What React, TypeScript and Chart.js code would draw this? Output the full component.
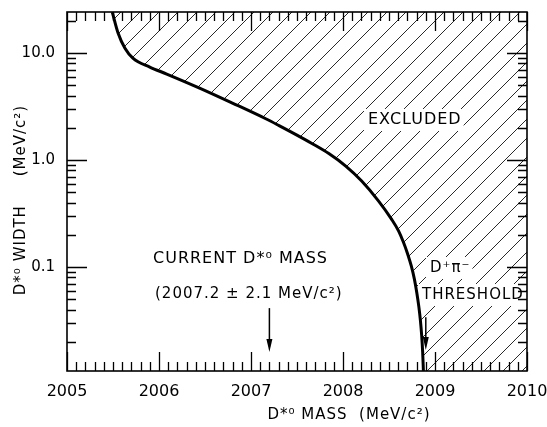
import React, { useEffect, useRef } from "react";
import { Chart, registerables } from "chart.js";

Chart.register(...registerables);

// ---- data ----
const curveMass = [
  2005.492, 2005.555, 2005.63, 2005.716, 2005.9, 2006.084, 2006.441, 2006.798,
  2007.166, 2007.305, 2007.489, 2007.662, 2007.846, 2008.03, 2008.203, 2008.387,
  2008.527, 2008.605, 2008.657, 2008.7, 2008.743, 2008.776, 2008.803, 2008.825,
  2008.841, 2008.855, 2008.866, 2008.874,
];
const curveWidth = [
  24.2, 15.4, 11.1, 8.98, 7.4, 6.37, 4.71, 3.41,
  2.42, 2.1, 1.73, 1.43, 1.15, 0.879, 0.637, 0.414,
  0.281, 0.217, 0.171, 0.135, 0.102, 0.0772, 0.0571, 0.0423,
  0.032, 0.0231, 0.016, 0.0107,
];
const xMin = 2005;
const xMax = 2010;
const yMin = 0.0107;
const yMax = 24.2;
const xTickValues = [2005, 2006, 2007, 2008, 2009, 2010];
const xTickLabels = ["2005", "2006", "2007", "2008", "2009", "2010"];
const yTickValues = [0.1, 1, 10];
const yTickLabels = ["0.1", "1.0", "10.0"];

const currentMass = 2007.2;
const currentArrow = [0.0414, 0.0161]; // tail, tip
const thresholdMass = 2008.9;
const thresholdArrow = [0.0341, 0.0168];

const FONT = '"DejaVu Sans", sans-serif';

function drawArrow(ctx: CanvasRenderingContext2D, x: number, y0: number, y1: number) {
  ctx.beginPath();
  ctx.moveTo(x, y0);
  ctx.lineTo(x, y1 - 8);
  ctx.stroke();
  ctx.beginPath();
  ctx.moveTo(x - 3, y1 - 13);
  ctx.lineTo(x + 3, y1 - 13);
  ctx.lineTo(x, y1);
  ctx.closePath();
  ctx.fill();
}

const boxedLabels = [
  { text: "EXCLUDED", x: 368, y: 120, size: 16 },
  { text: "D⁺π⁻", x: 430, y: 268, size: 15 },
  { text: "THRESHOLD", x: 422, y: 295, size: 15 },
];
const plainLabels = [
  { text: "CURRENT D*⁰ MASS", x: 153, y: 259, size: 16 },
  { text: "(2007.2 ± 2.1 MeV/c²)", x: 155, y: 294, size: 15 },
];

const framePlugin = {
  id: "frameDecor",
  afterDatasetDraw(chart: any, args: any) {
    if (args.index !== 1) return;
    const ctx: CanvasRenderingContext2D = chart.ctx;
    ctx.save();
    (ctx as any).letterSpacing = "1px";
    ctx.fillStyle = "#fff";
    for (const l of boxedLabels) {
      ctx.font = `${l.size}px ${FONT}`;
      const w = ctx.measureText(l.text).width;
      ctx.fillRect(l.x - 4, l.y - 11, w + 6, 22);
    }
    ctx.restore();
  },
  afterDraw(chart: any) {
    const ctx: CanvasRenderingContext2D = chart.ctx;
    const a = chart.chartArea;
    const xs = chart.scales.x;
    const ys = chart.scales.y;
    ctx.save();
    ctx.strokeStyle = "#000";
    ctx.fillStyle = "#000";
    ctx.lineWidth = 1.6;
    ctx.strokeRect(a.left, a.top, a.right - a.left, a.bottom - a.top);

    ctx.lineWidth = 1.3;
    ctx.beginPath();
    for (let i = 0; i <= 50; i++) {
      const v = xMin + i * 0.1;
      const px = Math.round(xs.getPixelForValue(v)) + 0.5;
      const len = i % 10 === 0 ? 19 : 9;
      ctx.moveTo(px, a.bottom);
      ctx.lineTo(px, a.bottom - len);
      ctx.moveTo(px, a.top);
      ctx.lineTo(px, a.top + len);
    }
    for (let k = -2; k <= 1; k++) {
      for (let m = 1; m <= 9; m++) {
        const v = m * Math.pow(10, k);
        if (v < yMin || v > yMax) continue;
        const py = Math.round(ys.getPixelForValue(v)) + 0.5;
        const len = m === 1 ? 20 : 9;
        ctx.moveTo(a.left, py);
        ctx.lineTo(a.left + len, py);
        ctx.moveTo(a.right, py);
        ctx.lineTo(a.right - len, py);
      }
    }
    ctx.stroke();

    ctx.lineWidth = 1.5;
    drawArrow(
      ctx,
      xs.getPixelForValue(currentMass),
      ys.getPixelForValue(currentArrow[0]),
      ys.getPixelForValue(currentArrow[1])
    );
    drawArrow(
      ctx,
      xs.getPixelForValue(thresholdMass),
      ys.getPixelForValue(thresholdArrow[0]),
      ys.getPixelForValue(thresholdArrow[1])
    );

    (ctx as any).letterSpacing = "1px";
    ctx.textBaseline = "middle";
    ctx.textAlign = "left";
    for (const l of [...boxedLabels, ...plainLabels]) {
      ctx.font = `${l.size}px ${FONT}`;
      ctx.fillText(l.text, l.x, l.y);
    }

    // axis titles
    ctx.font = `15px ${FONT}`;
    ctx.textAlign = "center";
    ctx.fillText("D*⁰ MASS  (MeV/c²)", 349, 415);
    ctx.save();
    ctx.translate(21, 200);
    ctx.rotate(-Math.PI / 2);
    ctx.fillText("D*⁰ WIDTH     (MeV/c²)", 0, 0);
    ctx.restore();
    ctx.restore();
  },
};

export default function App() {
  const ref = useRef<HTMLCanvasElement | null>(null);
  useEffect(() => {
    const canvas = ref.current;
    if (!canvas) return;
    const tile = document.createElement("canvas");
    const s = 19;
    tile.width = s;
    tile.height = s;
    const tctx = tile.getContext("2d")!;
    tctx.strokeStyle = "#2a2a2a";
    tctx.lineWidth = 1;
    tctx.beginPath();
    tctx.moveTo(-1, s + 1);
    tctx.lineTo(s + 1, -1);
    tctx.stroke();
    const pattern = canvas.getContext("2d")!.createPattern(tile, "repeat");

    const curve = curveMass.map((m, i) => ({ x: m, y: curveWidth[i] }));
    const fillPts = [...curve, { x: xMax, y: yMin / 10 }];

    const chart = new Chart(canvas, {
      type: "line",
      data: {
        datasets: [
          {
            data: curve,
            borderColor: "#000",
            borderWidth: 3,
            pointRadius: 0,
            fill: false,
            cubicInterpolationMode: "monotone",
          },
          {
            data: fillPts,
            borderColor: "rgba(0,0,0,0)",
            borderWidth: 0,
            pointRadius: 0,
            fill: "end",
            backgroundColor: pattern as any,
            cubicInterpolationMode: "monotone",
          },
        ],
      },
      options: {
        animation: false,
        responsive: false,
        layout: { padding: { left: 0, top: 12, right: 20, bottom: 0 } },
        plugins: { legend: { display: false }, tooltip: { enabled: false } },
        scales: {
          x: {
            type: "linear",
            min: xMin,
            max: xMax,
            grid: { display: false, drawTicks: false },
            border: { display: false },
            afterBuildTicks: (sc: any) => {
              sc.ticks = xTickValues.map((v) => ({ value: v }));
            },
            ticks: {
              callback: (v: any) => xTickLabels[xTickValues.indexOf(Number(v))] ?? "",
              font: { family: FONT, size: 16 },
              color: "#000",
              padding: 11,
              maxRotation: 0,
              minRotation: 0,
              autoSkip: false,
            },
            afterFit: (sc: any) => {
              sc.height = 56;
              sc.paddingLeft = 0;
              sc.paddingRight = 0;
            },
          },
          y: {
            type: "logarithmic",
            min: yMin,
            max: yMax,
            grid: { display: false, drawTicks: false },
            border: { display: false },
            afterBuildTicks: (sc: any) => {
              sc.ticks = yTickValues.map((v) => ({ value: v }));
            },
            ticks: {
              callback: (v: any) => {
                const i = yTickValues.findIndex((t) => Math.abs(t - Number(v)) < 1e-9);
                return i >= 0 ? yTickLabels[i] : "";
              },
              font: { family: FONT, size: 15 },
              color: "#000",
              padding: 12,
              autoSkip: false,
            },
            afterFit: (sc: any) => {
              sc.width = 67;
              sc.paddingTop = 0;
              sc.paddingBottom = 0;
            },
          },
        },
      },
      plugins: [framePlugin as any],
    });
    return () => chart.destroy();
  }, []);
  return (
    <canvas
      ref={ref}
      width={547}
      height={427}
      style={{ position: "fixed", left: 0, top: 0, display: "block", background: "#fff" }}
    />
  );
}
